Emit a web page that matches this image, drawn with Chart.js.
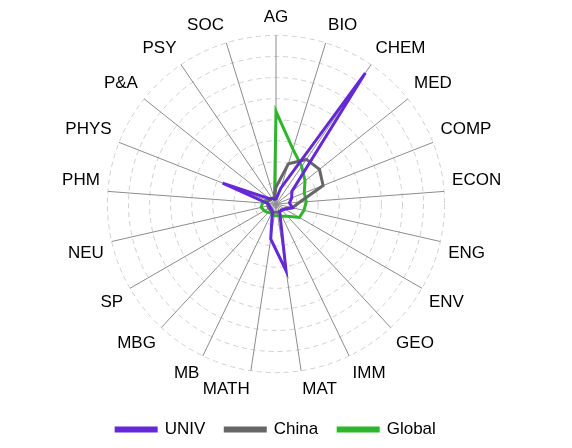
<!DOCTYPE html>
<html><head><meta charset="UTF-8">
<script src="https://cdn.jsdelivr.net/npm/chart.js@4"></script>
<style>html,body{margin:0;padding:0;background:#fff;}#wrap{width:572px;height:448px;}</style>
</head><body><div id="wrap"><canvas id="c"></canvas></div>
<script>
var categories = ['AG','BIO','CHEM','MED','COMP','ECON','ENG','ENV','GEO','IMM','MAT','MATH','MB','MBG','SP','NEU','PHM','PHYS','P&A','PSY','SOC'];
var univ   = [0.03,0.10,0.94,0.12,0.10,0.08,0.10,0.06,0.05,0.05,0.40,0.21,0.05,0.04,0.04,0.04,0.05,0.34,0.05,0.04,0.03];
var china  = [0.10,0.25,0.32,0.33,0.30,0.14,0.10,0.06,0.05,0.05,0.05,0.05,0.05,0.05,0.05,0.05,0.05,0.05,0.04,0.04,0.04];
var global = [0.55,0.34,0.27,0.22,0.18,0.18,0.17,0.16,0.10,0.08,0.07,0.07,0.06,0.07,0.08,0.09,0.08,0.06,0.05,0.04,0.03];

function ds(label, data, color) {
    return { label: label, data: data, borderColor: color, backgroundColor: color, borderWidth: 3,
             fill: false, pointRadius: 0, tension: 0 };
}

new Chart(document.getElementById('c'), {
    type: 'radar',
    data: { labels: categories, datasets: [ds('UNIV', univ, '#6528d6'), ds('China', china, '#666666'), ds('Global', global, '#2fb52b')] },
    options: {
        responsive: true, maintainAspectRatio: false, animation: false,
        layout: { padding: { top: 6, bottom: 0, left: 0, right: 20 } },
        plugins: {
            legend: { position: 'bottom',
                labels: { font: { family: 'Liberation Sans, Arial', size: 17 }, color: '#000',
                          boxWidth: 40, boxHeight: 3, padding: 20 } },
            tooltip: { enabled: false }
        },
        scales: { r: {
            min: 0, max: 1,
            ticks: { display: false, stepSize: 0.125 },
            grid: { color: '#d0d0d0', circular: true },
            border: { dash: [5, 4] },
            angleLines: { color: '#8c8c8c' },
            pointLabels: { font: { family: 'Liberation Sans, Arial', size: 17 }, color: '#000', padding: 8 }
        } }
    }
});
</script></body></html>
